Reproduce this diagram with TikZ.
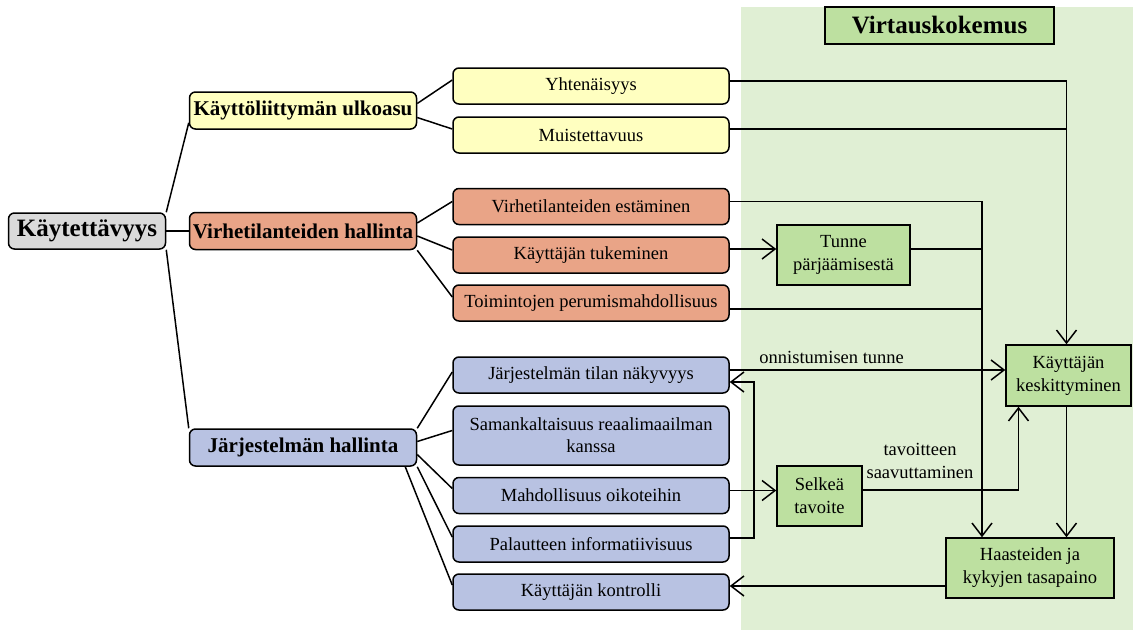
\documentclass[tikz,border=0pt]{standalone}
\usepackage{fontspec}
\setmainfont{Liberation Serif}
\usetikzlibrary{arrows.meta}
\definecolor{bgg}{RGB}{224,239,212}
\definecolor{gnode}{RGB}{189,224,160}
\definecolor{rootc}{RGB}{218,218,218}
\definecolor{yelc}{RGB}{255,255,192}
\definecolor{redc}{RGB}{233,164,135}
\definecolor{bluc}{RGB}{184,194,226}
\begin{document}
\begin{tikzpicture}[x=1pt,y=-1pt,
  lbox/.style={draw, line width=1.5pt, rounded corners=6pt, inner sep=0pt, align=center,
    font=\fontsize{18.5}{22}\selectfont},
  catbox/.style={lbox, font=\fontsize{21}{24}\selectfont\bfseries, minimum width=227pt, minimum height=37pt},
  leafbox/.style={lbox, minimum width=276pt, minimum height=36pt},
  gbox/.style={draw, line width=1.5pt, fill=gnode, inner sep=0pt, align=center,
    font=\fontsize{18.5}{23}\selectfont},
  tree/.style={line width=1.5pt},
  conn/.style={line width=1.5pt},
  arr/.style={line width=1.5pt, -{Straight Barb[length=13pt,width=20pt,line width=1.5pt]}},
  lab/.style={font=\fontsize{18.5}{23}\selectfont, align=center, inner sep=0pt}
]
\useasboundingbox (0,0) rectangle (1133,630);
\fill[bgg] (741,7) rectangle (1133,630);

% main tree
\node[lbox, fill=rootc, minimum width=157pt, minimum height=36pt, font=\fontsize{25}{28}\selectfont\bfseries] (root) at (87,231) {Käytettävyys};
\node[catbox, fill=yelc] (k1) at (303,110.5) {Käyttöliittymän ulkoasu};
\node[catbox, fill=redc] (vh) at (303,231) {Virhetilanteiden hallinta};
\node[catbox, fill=bluc] (jh) at (303,447.5) {Järjestelmän hallinta};

\node[leafbox, fill=yelc] (y1) at (591,86) {Yhtenäisyys};
\node[leafbox, fill=yelc] (mu) at (591,135) {Muistettavuus};

\node[leafbox, fill=redc] (ve) at (591,206.5) {Virhetilanteiden estäminen};
\node[leafbox, fill=redc] (kt) at (591,255) {Käyttäjän tukeminen};
\node[leafbox, fill=redc] (tp) at (591,303) {Toimintojen perumismahdollisuus};

\node[leafbox, fill=bluc] (tn) at (591,375) {Järjestelmän tilan näkyvyys};
\node[leafbox, fill=bluc, minimum height=59pt] (sk) at (591,435.5) {Samankaltaisuus reaalimaailman\\kanssa};
\node[leafbox, fill=bluc] (mo) at (591,495.5) {Mahdollisuus oikoteihin};
\node[leafbox, fill=bluc] (pa) at (591,544) {Palautteen informatiivisuus};
\node[leafbox, fill=bluc] (kk) at (591,592) {Käyttäjän kontrolli};

% flow nodes
\node[gbox, minimum width=229pt, minimum height=37pt, font=\fontsize{25}{28}\selectfont\bfseries] (vk) at (939.5,25.5) {Virtauskokemus};
\node[gbox, minimum width=133pt, minimum height=60pt] (tup) at (843.5,255) {Tunne\\pärjäämisestä};
\node[gbox, minimum width=85pt, minimum height=60pt] (st) at (819.5,496) {Selkeä\\tavoite};
\node[gbox, minimum width=125pt, minimum height=61pt] (kes) at (1068.5,375.5) {Käyttäjän\\keskittyminen};
\node[gbox, minimum width=168pt, minimum height=60pt] (ha) at (1030,568) {Haasteiden ja\\kykyjen tasapaino};

% tree connectors
\draw[tree] (root.north east) -- ([yshift=7pt]k1.south west);
\draw[tree] (root.east) -- (vh.west);
\draw[tree] (root.south east) -- (jh.north west);

\draw[tree] ([yshift=7pt]k1.east) -- ([yshift=6pt]y1.west);
\draw[tree] ([yshift=-7pt]k1.east) -- ([yshift=6pt]mu.west);

\draw[tree] ([yshift=8pt]vh.east) -- ([yshift=5pt]ve.west);
\draw[tree] ([yshift=-5pt]vh.east) -- ([yshift=5pt]kt.west);
\draw[tree] (vh.south east) -- ([yshift=6pt]tp.west);

\draw[tree] (jh.north east) -- ([yshift=3pt]tn.west);
\draw[tree] ([yshift=6pt]jh.east) -- ([yshift=5pt]sk.west);
\draw[tree] ([yshift=-7pt]jh.east) -- ([yshift=7pt]mo.west);
\draw[tree] (jh.south east) -- ([yshift=7pt]pa.west);
\draw[tree] ([xshift=-12pt]jh.south east) -- ([yshift=7pt]kk.west);

% flow connectors
\coordinate (jx) at (982,400);
\draw[arr] ([yshift=5pt]y1.east) -| ([xshift=-2pt]kes.north);
\draw[conn] ([yshift=6pt]mu.east) -| ([xshift=-2pt]kes.north);

\draw[arr] ([yshift=5pt]ve.east) -| (jx) -- (jx |- ha.north);
\draw[conn] ([yshift=6pt]tup.east) -| (jx);
\draw[conn] ([yshift=-6pt]tp.east) -| (jx);

\draw[arr] ([yshift=6pt]kt.east) -- ([yshift=6pt]kt.east -| tup.west);

\draw[arr] ([yshift=5pt]tn.east) -- node[lab, pos=0.37, above=6pt] {onnistumisen tunne} ([yshift=5pt]tn.east -| kes.west);
\draw[arr] ([yshift=6pt]pa.east) -- ++(24,0) |- ([yshift=-7pt]tn.east);
\draw[arr] ([yshift=5pt]mo.east) -- ([yshift=5pt]mo.east -| st.west);
\draw[arr] ([yshift=6pt]st.east) -| ([xshift=-50pt]kes.south);
\node[lab] (tsl) at (920,461) {tavoitteen\\saavuttaminen};

\draw[arr] ([xshift=-2pt]kes.south) -- ([xshift=-2pt]kes.south |- ha.north);
\draw[arr] ([yshift=-18pt]ha.west) -- ([yshift=-18pt]ha.west -| kk.east);
\end{tikzpicture}
\end{document}
